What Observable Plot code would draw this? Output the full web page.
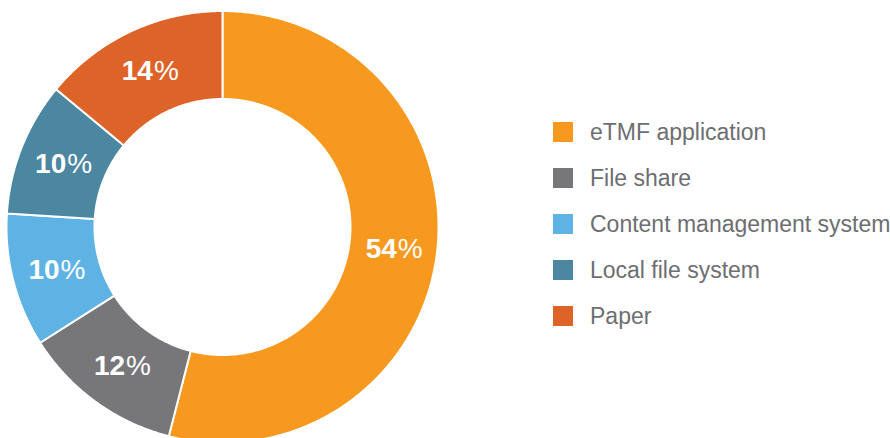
<!DOCTYPE html>
<html><head><meta charset="utf-8">
<script src="https://cdn.jsdelivr.net/npm/d3@7"></script>
<script src="https://cdn.jsdelivr.net/npm/@observablehq/plot@0.6"></script>
<style>
body{margin:0;background:#fff;}
#wrap{position:relative;width:890px;height:438px;overflow:hidden;font-family:"Liberation Sans",Arial,sans-serif;background:#fff;}
#legend{position:absolute;left:553px;top:108.7px;}
.lg-swatches{font-family:"Liberation Sans",Arial,sans-serif;font-size:23px;color:#6d6e71;margin:0;}
.lg-swatch{height:46px;padding:0;}
.lg-swatch > svg{margin-right:17px;}
.lg-swatch-label{line-height:1;overflow:visible;padding-top:2px;}
</style></head>
<body><div id="wrap"><div id="chart"></div><div id="legend"></div></div>
<script>
const categories = ["eTMF application", "File share", "Content management system", "Local file system", "Paper"];
const shares = [54, 12, 10, 10, 14];
const colors = ["#F7991F", "#77777A", "#5EB3E4", "#4C87A1", "#DD6329"];

// geometry of the ring (pixels)
const CX = 222, CY = 226.5, R = 216, RIN = 128;
const RI = RIN / R;

const total = d3.sum(shares);
let acc = 0;
const slices = categories.map((c, i) => {
  const a0 = acc / total * 2 * Math.PI;
  acc += shares[i];
  const a1 = acc / total * 2 * Math.PI;
  return {c, v: shares[i], a0, a1};
});

const pts = [];
for (const s of slices) {
  const n = Math.max(2, Math.ceil((s.a1 - s.a0) / (Math.PI / 360)));
  for (let k = 0; k <= n; k++) {
    const a = s.a0 + (s.a1 - s.a0) * k / n;
    pts.push({c: s.c, x: Math.sin(a), y: Math.cos(a)});
  }
  for (let k = n; k >= 0; k--) {
    const a = s.a0 + (s.a1 - s.a0) * k / n;
    pts.push({c: s.c, x: RI * Math.sin(a), y: RI * Math.cos(a)});
  }
  pts.push({c: s.c, x: Math.sin(s.a0), y: Math.cos(s.a0)});
}

const labels = slices.map(s => {
  const a = (s.a0 + s.a1) / 2, r = (1 + RI) / 2;
  return {c: s.c, v: s.v, x: r * Math.sin(a), y: r * Math.cos(a)};
});

const fs = 28;
const plot = Plot.plot({
  width: 890, height: 438, margin: 0,
  x: {domain: [-1, 1], range: [CX - R, CX + R], axis: null},
  y: {domain: [-1, 1], range: [CY + R, CY - R], axis: null},
  color: {type: "ordinal", domain: categories, range: colors},
  style: {fontFamily: '"Liberation Sans", Arial, sans-serif', background: "white"},
  marks: [
    Plot.line(pts, {x: "x", y: "y", z: "c", fill: "c", stroke: "white", strokeWidth: 2, curve: "linear"}),
    Plot.text(labels, {x: "x", y: "y", text: d => String(d.v), textAnchor: "end", dx: 0.13 * fs, fontWeight: "bold", fill: "white", fontSize: fs}),
    Plot.text(labels, {x: "x", y: "y", text: () => "%", textAnchor: "start", dx: 0.13 * fs + 1, fill: "white", fontSize: fs})
  ]
});
document.getElementById("chart").appendChild(plot);
document.getElementById("legend").appendChild(plot.legend("color", {columns: 1, swatchSize: 20, className: "lg"}));
</script>
</body></html>
